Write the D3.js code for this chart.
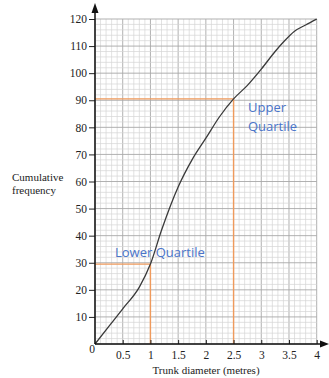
<!DOCTYPE html>
<html>
<head>
<meta charset="utf-8">
<script src="https://cdn.jsdelivr.net/npm/d3@7"></script>
<style>
  body { margin: 0; background: #fff; }
  svg { display: block; }
</style>
</head>
<body>
<div id="chart"></div>
<script>
const w = 329;
const h = 378;

// cumulative frequency curve
const diameters = [0, 0.25, 0.5, 0.8, 1.0, 1.2, 1.5, 1.75, 2.0, 2.25, 2.5, 2.75, 3.0, 3.25, 3.4, 3.6, 3.8, 4.0];
const cumFreq = [0, 6.5, 13, 21, 29.5, 42, 58, 68, 76, 84, 90.5, 95.5, 101.5, 108, 111.5, 115.5, 117.8, 120];

const xTicks = [0.5, 1, 1.5, 2, 2.5, 3, 3.5, 4];
const yTicks = [10, 20, 30, 40, 50, 60, 70, 80, 90, 100, 110, 120];

// quartile readings [diameter, cumulative frequency]
const lowerQ = [1.0, 29.5];
const upperQ = [2.5, 90.5];

const x = d3.scaleLinear().domain([0, 4]).range([95, 316.7]);
const y = d3.scaleLinear().domain([0, 120]).range([344, 19]);

const svg = d3.select('#chart')
  .append('svg')
  .attr('width', w)
  .attr('height', h);

// graph paper
const isMajorX = d => Math.abs(d * 2 - Math.round(d * 2)) < 1e-6;
const grid = svg.append('g');
grid.selectAll('.vminor')
  .data(d3.range(0, 41).map(d => d / 10))
  .enter()
  .append('line')
  .attr('x1', d => x(d)).attr('x2', d => x(d))
  .attr('y1', y(0)).attr('y2', y(120))
  .attr('stroke', d => isMajorX(d) ? '#a8a8a8' : '#d6d6d6')
  .attr('stroke-width', d => isMajorX(d) ? 0.9 : 0.7);
grid.selectAll('.hminor')
  .data(d3.range(0, 61).map(d => d * 2))
  .enter()
  .append('line')
  .attr('x1', x(0)).attr('x2', x(4))
  .attr('y1', d => y(d)).attr('y2', d => y(d))
  .attr('stroke', d => d % 10 === 0 ? '#a8a8a8' : '#d6d6d6')
  .attr('stroke-width', d => d % 10 === 0 ? 0.9 : 0.7);

// quartile guide lines
const orange = '#ef9a5c';
[lowerQ, upperQ].forEach(q => {
  svg.append('path')
    .attr('d', `M${x(0)},${y(q[1])}H${x(q[0])}V${y(0)}`)
    .attr('fill', 'none')
    .attr('stroke', orange)
    .attr('stroke-width', 1.4);
});

// curve
const line = d3.line()
  .x((d, i) => x(d))
  .y((d, i) => y(cumFreq[i]))
  .curve(d3.curveMonotoneX);
svg.append('path')
  .datum(diameters)
  .attr('d', line)
  .attr('fill', 'none')
  .attr('stroke', '#3a3a3a')
  .attr('stroke-width', 1.3);

// axes
const serif = '"Liberation Serif", "DejaVu Serif", serif';
const xAxis = d3.axisBottom(x).tickValues(xTicks).tickSize(-4).tickFormat(d3.format('~g'));
const yAxis = d3.axisLeft(y).tickValues(yTicks).tickSize(6);

const gx = svg.append('g')
  .attr('transform', `translate(0,${y(0)})`)
  .call(xAxis);
const gy = svg.append('g')
  .attr('transform', `translate(${x(0)},0)`)
  .call(yAxis);

[gx, gy].forEach(g => {
  g.select('.domain').remove();
  g.selectAll('line').attr('stroke', '#222').attr('stroke-width', 1);
  g.selectAll('text')
    .attr('font-family', serif)
    .attr('font-size', 11.5)
    .attr('fill', '#222');
});
gx.selectAll('text').attr('y', 7).attr('dy', '0.71em');
gy.selectAll('text').attr('x', -8);

// axis lines with arrow heads
svg.append('line')
  .attr('x1', x(0)).attr('x2', 322)
  .attr('y1', y(0)).attr('y2', y(0))
  .attr('stroke', '#111').attr('stroke-width', 1.5);
svg.append('path')
  .attr('d', `M329,${y(0)}L320,${y(0) - 3.5}L320,${y(0) + 3.5}Z`)
  .attr('fill', '#111');
svg.append('line')
  .attr('x1', x(0)).attr('x2', x(0))
  .attr('y1', y(0)).attr('y2', 11)
  .attr('stroke', '#111').attr('stroke-width', 1.5);
svg.append('path')
  .attr('d', `M${x(0)},3L${x(0) - 3.5},13L${x(0) + 3.5},13Z`)
  .attr('fill', '#111');

svg.append('text')
  .attr('x', 92).attr('y', 353)
  .attr('text-anchor', 'middle')
  .attr('font-family', serif).attr('font-size', 11.5).attr('fill', '#222')
  .text('0');

// axis titles
svg.append('text')
  .attr('x', 206).attr('y', 374)
  .attr('text-anchor', 'middle')
  .attr('font-family', serif).attr('font-size', 11).attr('fill', '#222')
  .text('Trunk diameter (metres)');
svg.append('text')
  .attr('x', 12).attr('y', 181)
  .attr('font-family', serif).attr('font-size', 11).attr('fill', '#222')
  .text('Cumulative');
svg.append('text')
  .attr('x', 12).attr('y', 194)
  .attr('font-family', serif).attr('font-size', 11).attr('fill', '#222')
  .text('frequency');

// annotations
const blue = '#4a74c9';
const sans = '"Open Sans", "Liberation Sans", sans-serif';
svg.append('text')
  .attr('x', 248).attr('y', 112)
  .attr('font-family', sans).attr('font-size', 13).attr('fill', blue)
  .text('Upper');
svg.append('text')
  .attr('x', 248).attr('y', 131)
  .attr('font-family', sans).attr('font-size', 13).attr('fill', blue)
  .text('Quartile');
svg.append('text')
  .attr('x', 115).attr('y', 257)
  .attr('font-family', sans).attr('font-size', 13).attr('fill', blue)
  .text('Lower Quartile');
</script>
</body>
</html>
